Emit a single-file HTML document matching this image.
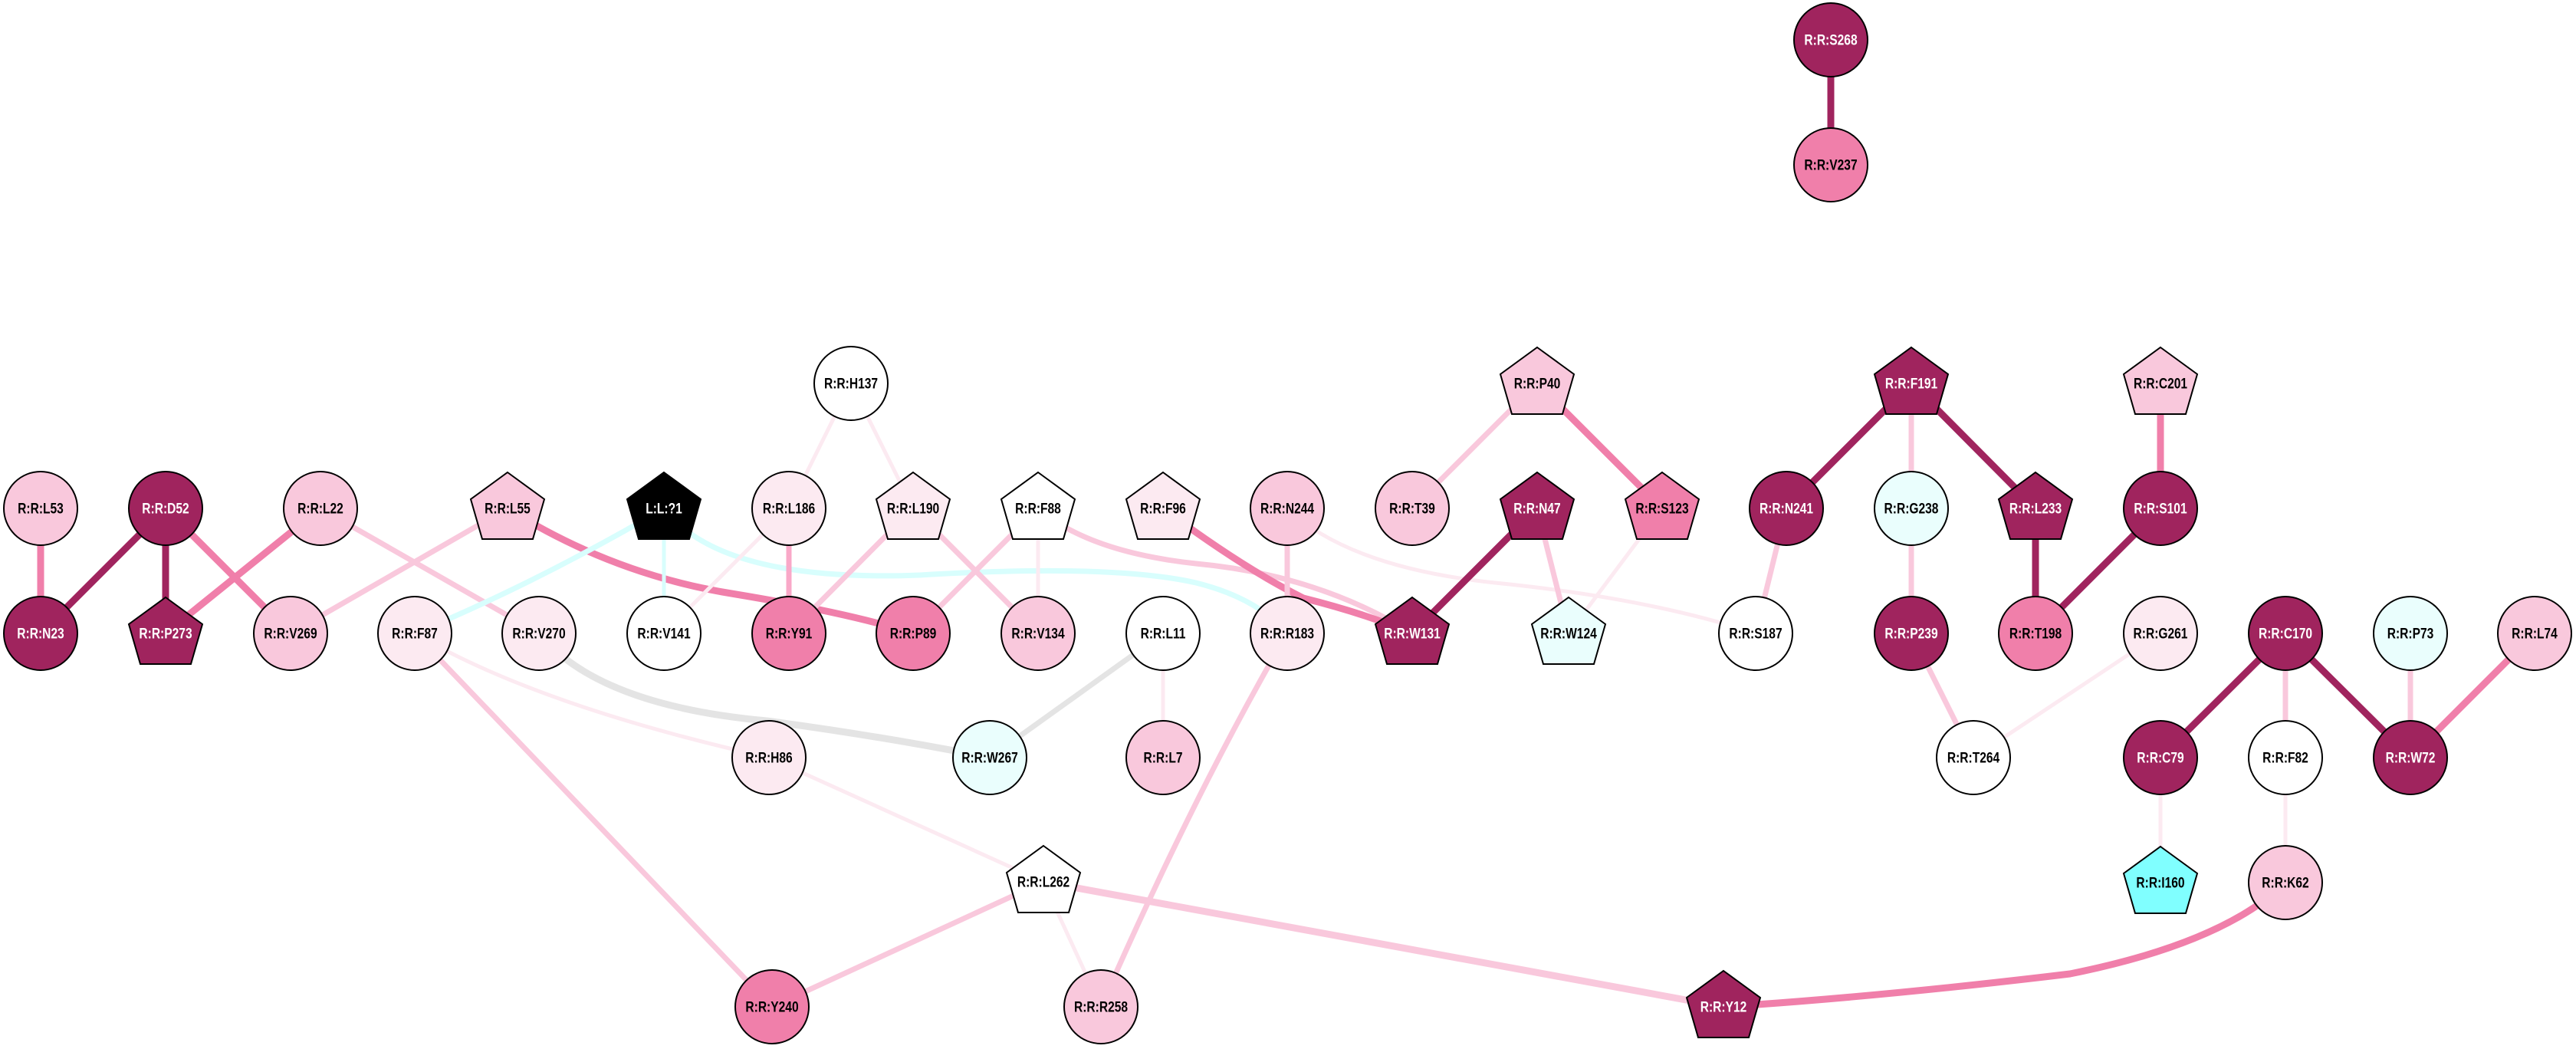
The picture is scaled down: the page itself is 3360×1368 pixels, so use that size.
<!DOCTYPE html>
<html><head><meta charset="utf-8"><style>html,body{margin:0;padding:0;background:#fff}svg{display:block}text{font-family:"Liberation Sans",sans-serif;font-weight:bold;font-size:19px;text-anchor:middle;dominant-baseline:central}</style></head><body>
<svg width="3360" height="1368" viewBox="0 0 3360 1368" xmlns="http://www.w3.org/2000/svg">
<g fill="none" stroke-linecap="butt">
<line x1="2388" y1="52" x2="2388" y2="215" stroke="#A0245E" stroke-width="9"/>
<line x1="53" y1="663" x2="53" y2="826" stroke="#F07FAA" stroke-width="9"/>
<line x1="216" y1="663" x2="53" y2="826" stroke="#A0245E" stroke-width="9"/>
<line x1="216" y1="663" x2="216" y2="826" stroke="#A0245E" stroke-width="9"/>
<line x1="216" y1="663" x2="379" y2="826" stroke="#F07FAA" stroke-width="9"/>
<line x1="418" y1="663" x2="216" y2="826" stroke="#F07FAA" stroke-width="9"/>
<line x1="418" y1="663" x2="703" y2="826" stroke="#F9C8DC" stroke-width="7"/>
<line x1="662" y1="663" x2="379" y2="826" stroke="#F9C8DC" stroke-width="7"/>
<path d="M662 663 Q800 750 960 775 Q1110 800 1191 826" stroke="#F07FAA" stroke-width="9"/>
<path d="M866 663 Q700 760 541 826" stroke="#D8FEFD" stroke-width="7"/>
<line x1="866" y1="663" x2="866" y2="826" stroke="#D8FEFD" stroke-width="5"/>
<path d="M866 663 Q940 760 1200 750 Q1450 735 1560 760 Q1640 780 1679 826" stroke="#D8FEFD" stroke-width="7"/>
<line x1="1110" y1="500" x2="1029" y2="663" stroke="#FCEAF1" stroke-width="5"/>
<line x1="1110" y1="500" x2="1191" y2="663" stroke="#FCEAF1" stroke-width="5"/>
<line x1="1029" y1="663" x2="1029" y2="826" stroke="#F9A8C8" stroke-width="7"/>
<line x1="1029" y1="663" x2="866" y2="826" stroke="#FCEAF1" stroke-width="5"/>
<line x1="1191" y1="663" x2="1029" y2="826" stroke="#F9C8DC" stroke-width="7"/>
<line x1="1354" y1="663" x2="1191" y2="826" stroke="#F9C8DC" stroke-width="7"/>
<line x1="1354" y1="663" x2="1354" y2="826" stroke="#FCEAF1" stroke-width="5"/>
<line x1="1191" y1="663" x2="1354" y2="826" stroke="#F9C8DC" stroke-width="7"/>
<path d="M1354 663 Q1420 720 1560 735 Q1720 750 1842 826" stroke="#F9C8DC" stroke-width="7"/>
<path d="M1517 663 Q1620 740 1700 780 Q1780 800 1842 826" stroke="#F07FAA" stroke-width="9"/>
<line x1="1679" y1="663" x2="1679" y2="826" stroke="#F9C8DC" stroke-width="7"/>
<path d="M1679 663 Q1760 740 1950 760 Q2150 780 2290 826" stroke="#FCEAF1" stroke-width="5"/>
<line x1="2005" y1="500" x2="1842" y2="663" stroke="#F9C8DC" stroke-width="7"/>
<line x1="2005" y1="500" x2="2168" y2="663" stroke="#F07FAA" stroke-width="9"/>
<line x1="2005" y1="663" x2="1842" y2="826" stroke="#A0245E" stroke-width="9"/>
<line x1="2005" y1="663" x2="2046" y2="826" stroke="#F9C8DC" stroke-width="7"/>
<line x1="2168" y1="663" x2="2046" y2="826" stroke="#FCEAF1" stroke-width="5"/>
<line x1="2493" y1="500" x2="2330" y2="663" stroke="#A0245E" stroke-width="9"/>
<line x1="2493" y1="500" x2="2493" y2="663" stroke="#F9C8DC" stroke-width="7"/>
<line x1="2493" y1="500" x2="2655" y2="663" stroke="#A0245E" stroke-width="9"/>
<line x1="2330" y1="663" x2="2290" y2="826" stroke="#F9C8DC" stroke-width="7"/>
<line x1="2493" y1="663" x2="2493" y2="826" stroke="#F9C8DC" stroke-width="7"/>
<line x1="2655" y1="663" x2="2655" y2="826" stroke="#A0245E" stroke-width="9"/>
<line x1="2818" y1="500" x2="2818" y2="663" stroke="#F07FAA" stroke-width="9"/>
<line x1="2818" y1="663" x2="2655" y2="826" stroke="#A0245E" stroke-width="9"/>
<line x1="2493" y1="826" x2="2574" y2="988" stroke="#F9C8DC" stroke-width="7"/>
<line x1="2818" y1="826" x2="2574" y2="988" stroke="#FCEAF1" stroke-width="5"/>
<line x1="2981" y1="826" x2="2818" y2="988" stroke="#A0245E" stroke-width="9"/>
<line x1="2981" y1="826" x2="2981" y2="988" stroke="#F9C8DC" stroke-width="7"/>
<line x1="2981" y1="826" x2="3144" y2="988" stroke="#A0245E" stroke-width="9"/>
<line x1="3144" y1="826" x2="3144" y2="988" stroke="#F9C8DC" stroke-width="7"/>
<line x1="3306" y1="826" x2="3144" y2="988" stroke="#F07FAA" stroke-width="9"/>
<line x1="2818" y1="988" x2="2818" y2="1151" stroke="#FCEAF1" stroke-width="5"/>
<line x1="2981" y1="988" x2="2981" y2="1151" stroke="#FCEAF1" stroke-width="5"/>
<path d="M2981 1151 Q2900 1230 2700 1270 Q2450 1300 2248 1313" stroke="#F07FAA" stroke-width="9"/>
<line x1="1361" y1="1150" x2="2248" y2="1313" stroke="#F9C8DC" stroke-width="9"/>
<line x1="1361" y1="1150" x2="1007" y2="1313" stroke="#F9C8DC" stroke-width="7"/>
<line x1="1361" y1="1150" x2="1436" y2="1313" stroke="#FCEAF1" stroke-width="5"/>
<line x1="541" y1="826" x2="1007" y2="1313" stroke="#F9C8DC" stroke-width="7"/>
<path d="M541 826 Q700 920 1003 988" stroke="#FCEAF1" stroke-width="5"/>
<line x1="1003" y1="988" x2="1361" y2="1150" stroke="#FCEAF1" stroke-width="5"/>
<path d="M703 826 Q780 920 1000 940 Q1150 960 1291 988" stroke="#E4E4E4" stroke-width="9"/>
<line x1="1517" y1="826" x2="1291" y2="988" stroke="#E4E4E4" stroke-width="7"/>
<line x1="1517" y1="826" x2="1517" y2="988" stroke="#FCEAF1" stroke-width="5"/>
<path d="M1679 826 Q1560 1030 1436 1313" stroke="#F9C8DC" stroke-width="7"/>
</g>
<g stroke="#000" stroke-width="2">
<circle cx="2388" cy="52" r="48" fill="#A0245E"/>
<circle cx="2388" cy="215" r="48" fill="#F07FAA"/>
<circle cx="1110" cy="500" r="48" fill="#fff"/>
<circle cx="53" cy="663" r="48" fill="#F9C8DC"/>
<circle cx="216" cy="663" r="48" fill="#A0245E"/>
<circle cx="418" cy="663" r="48" fill="#F9C8DC"/>
<circle cx="1029" cy="663" r="48" fill="#FCEAF1"/>
<circle cx="1679" cy="663" r="48" fill="#F9C8DC"/>
<circle cx="1842" cy="663" r="48" fill="#F9C8DC"/>
<circle cx="2330" cy="663" r="48" fill="#A0245E"/>
<circle cx="2493" cy="663" r="48" fill="#EAFEFD"/>
<circle cx="2818" cy="663" r="48" fill="#A0245E"/>
<circle cx="53" cy="826" r="48" fill="#A0245E"/>
<circle cx="379" cy="826" r="48" fill="#F9C8DC"/>
<circle cx="541" cy="826" r="48" fill="#FCEAF1"/>
<circle cx="703" cy="826" r="48" fill="#FCEAF1"/>
<circle cx="866" cy="826" r="48" fill="#fff"/>
<circle cx="1029" cy="826" r="48" fill="#F07FAA"/>
<circle cx="1191" cy="826" r="48" fill="#F07FAA"/>
<circle cx="1354" cy="826" r="48" fill="#F9C8DC"/>
<circle cx="1517" cy="826" r="48" fill="#fff"/>
<circle cx="1679" cy="826" r="48" fill="#FCEAF1"/>
<circle cx="2290" cy="826" r="48" fill="#fff"/>
<circle cx="2493" cy="826" r="48" fill="#A0245E"/>
<circle cx="2655" cy="826" r="48" fill="#F07FAA"/>
<circle cx="2818" cy="826" r="48" fill="#FCEAF1"/>
<circle cx="2981" cy="826" r="48" fill="#A0245E"/>
<circle cx="3144" cy="826" r="48" fill="#EAFEFD"/>
<circle cx="3306" cy="826" r="48" fill="#F9C8DC"/>
<circle cx="1003" cy="988" r="48" fill="#FCEAF1"/>
<circle cx="1291" cy="988" r="48" fill="#EAFEFD"/>
<circle cx="1517" cy="988" r="48" fill="#F9C8DC"/>
<circle cx="2574" cy="988" r="48" fill="#fff"/>
<circle cx="2818" cy="988" r="48" fill="#A0245E"/>
<circle cx="2981" cy="988" r="48" fill="#fff"/>
<circle cx="3144" cy="988" r="48" fill="#A0245E"/>
<circle cx="2981" cy="1151" r="48" fill="#F9C8DC"/>
<circle cx="1007" cy="1313" r="48" fill="#F07FAA"/>
<circle cx="1436" cy="1313" r="48" fill="#F9C8DC"/>
<polygon transform="translate(2005,500)" points="0,-47 48,-12 33,40 -33,40 -48,-12" fill="#F9C8DC"/>
<polygon transform="translate(2493,500)" points="0,-47 48,-12 33,40 -33,40 -48,-12" fill="#A0245E"/>
<polygon transform="translate(2818,500)" points="0,-47 48,-12 33,40 -33,40 -48,-12" fill="#F9C8DC"/>
<polygon transform="translate(662,663)" points="0,-47 48,-12 33,40 -33,40 -48,-12" fill="#F9C8DC"/>
<polygon transform="translate(866,663)" points="0,-47 48,-12 33,40 -33,40 -48,-12" fill="#000"/>
<polygon transform="translate(1191,663)" points="0,-47 48,-12 33,40 -33,40 -48,-12" fill="#FCEAF1"/>
<polygon transform="translate(1354,663)" points="0,-47 48,-12 33,40 -33,40 -48,-12" fill="#fff"/>
<polygon transform="translate(1517,663)" points="0,-47 48,-12 33,40 -33,40 -48,-12" fill="#FCEAF1"/>
<polygon transform="translate(2005,663)" points="0,-47 48,-12 33,40 -33,40 -48,-12" fill="#A0245E"/>
<polygon transform="translate(2168,663)" points="0,-47 48,-12 33,40 -33,40 -48,-12" fill="#F07FAA"/>
<polygon transform="translate(2655,663)" points="0,-47 48,-12 33,40 -33,40 -48,-12" fill="#A0245E"/>
<polygon transform="translate(216,826)" points="0,-47 48,-12 33,40 -33,40 -48,-12" fill="#A0245E"/>
<polygon transform="translate(1842,826)" points="0,-47 48,-12 33,40 -33,40 -48,-12" fill="#A0245E"/>
<polygon transform="translate(2046,826)" points="0,-47 48,-12 33,40 -33,40 -48,-12" fill="#EAFEFD"/>
<polygon transform="translate(1361,1150)" points="0,-47 48,-12 33,40 -33,40 -48,-12" fill="#fff"/>
<polygon transform="translate(2818,1151)" points="0,-47 48,-12 33,40 -33,40 -48,-12" fill="#80FFFF"/>
<polygon transform="translate(2248,1313)" points="0,-47 48,-12 33,40 -33,40 -48,-12" fill="#A0245E"/>
</g>
<g fill="#000">
<text transform="translate(1110,500) scale(0.82,1)">R:R:H137</text>
<text transform="translate(2005,500) scale(0.82,1)">R:R:P40</text>
<text transform="translate(2818,500) scale(0.82,1)">R:R:C201</text>
<text transform="translate(53,663) scale(0.82,1)">R:R:L53</text>
<text transform="translate(418,663) scale(0.82,1)">R:R:L22</text>
<text transform="translate(662,663) scale(0.82,1)">R:R:L55</text>
<text transform="translate(1029,663) scale(0.82,1)">R:R:L186</text>
<text transform="translate(1191,663) scale(0.82,1)">R:R:L190</text>
<text transform="translate(1354,663) scale(0.82,1)">R:R:F88</text>
<text transform="translate(1517,663) scale(0.82,1)">R:R:F96</text>
<text transform="translate(1679,663) scale(0.82,1)">R:R:N244</text>
<text transform="translate(1842,663) scale(0.82,1)">R:R:T39</text>
<text transform="translate(2168,663) scale(0.82,1)">R:R:S123</text>
<text transform="translate(2493,663) scale(0.82,1)">R:R:G238</text>
<text transform="translate(379,826) scale(0.82,1)">R:R:V269</text>
<text transform="translate(541,826) scale(0.82,1)">R:R:F87</text>
<text transform="translate(703,826) scale(0.82,1)">R:R:V270</text>
<text transform="translate(866,826) scale(0.82,1)">R:R:V141</text>
<text transform="translate(1029,826) scale(0.82,1)">R:R:Y91</text>
<text transform="translate(1191,826) scale(0.82,1)">R:R:P89</text>
<text transform="translate(1354,826) scale(0.82,1)">R:R:V134</text>
<text transform="translate(1517,826) scale(0.82,1)">R:R:L11</text>
<text transform="translate(1679,826) scale(0.82,1)">R:R:R183</text>
<text transform="translate(2046,826) scale(0.82,1)">R:R:W124</text>
<text transform="translate(2290,826) scale(0.82,1)">R:R:S187</text>
<text transform="translate(2655,826) scale(0.82,1)">R:R:T198</text>
<text transform="translate(2818,826) scale(0.82,1)">R:R:G261</text>
<text transform="translate(3144,826) scale(0.82,1)">R:R:P73</text>
<text transform="translate(3306,826) scale(0.82,1)">R:R:L74</text>
<text transform="translate(1003,988) scale(0.82,1)">R:R:H86</text>
<text transform="translate(1291,988) scale(0.82,1)">R:R:W267</text>
<text transform="translate(1517,988) scale(0.82,1)">R:R:L7</text>
<text transform="translate(2574,988) scale(0.82,1)">R:R:T264</text>
<text transform="translate(2981,988) scale(0.82,1)">R:R:F82</text>
<text transform="translate(1361,1150) scale(0.82,1)">R:R:L262</text>
<text transform="translate(2818,1151) scale(0.82,1)">R:R:I160</text>
<text transform="translate(2981,1151) scale(0.82,1)">R:R:K62</text>
<text transform="translate(1007,1313) scale(0.82,1)">R:R:Y240</text>
<text transform="translate(1436,1313) scale(0.82,1)">R:R:R258</text>
<text transform="translate(2388,215) scale(0.82,1)">R:R:V237</text>
</g>
<g fill="#fff">
<text transform="translate(2388,52) scale(0.82,1)">R:R:S268</text>
<text transform="translate(2493,500) scale(0.82,1)">R:R:F191</text>
<text transform="translate(216,663) scale(0.82,1)">R:R:D52</text>
<text transform="translate(866,663) scale(0.82,1)">L:L:?1</text>
<text transform="translate(2005,663) scale(0.82,1)">R:R:N47</text>
<text transform="translate(2330,663) scale(0.82,1)">R:R:N241</text>
<text transform="translate(2655,663) scale(0.82,1)">R:R:L233</text>
<text transform="translate(2818,663) scale(0.82,1)">R:R:S101</text>
<text transform="translate(53,826) scale(0.82,1)">R:R:N23</text>
<text transform="translate(216,826) scale(0.82,1)">R:R:P273</text>
<text transform="translate(1842,826) scale(0.82,1)">R:R:W131</text>
<text transform="translate(2493,826) scale(0.82,1)">R:R:P239</text>
<text transform="translate(2981,826) scale(0.82,1)">R:R:C170</text>
<text transform="translate(2818,988) scale(0.82,1)">R:R:C79</text>
<text transform="translate(3144,988) scale(0.82,1)">R:R:W72</text>
<text transform="translate(2248,1313) scale(0.82,1)">R:R:Y12</text>
</g>
</svg>
</body></html>
